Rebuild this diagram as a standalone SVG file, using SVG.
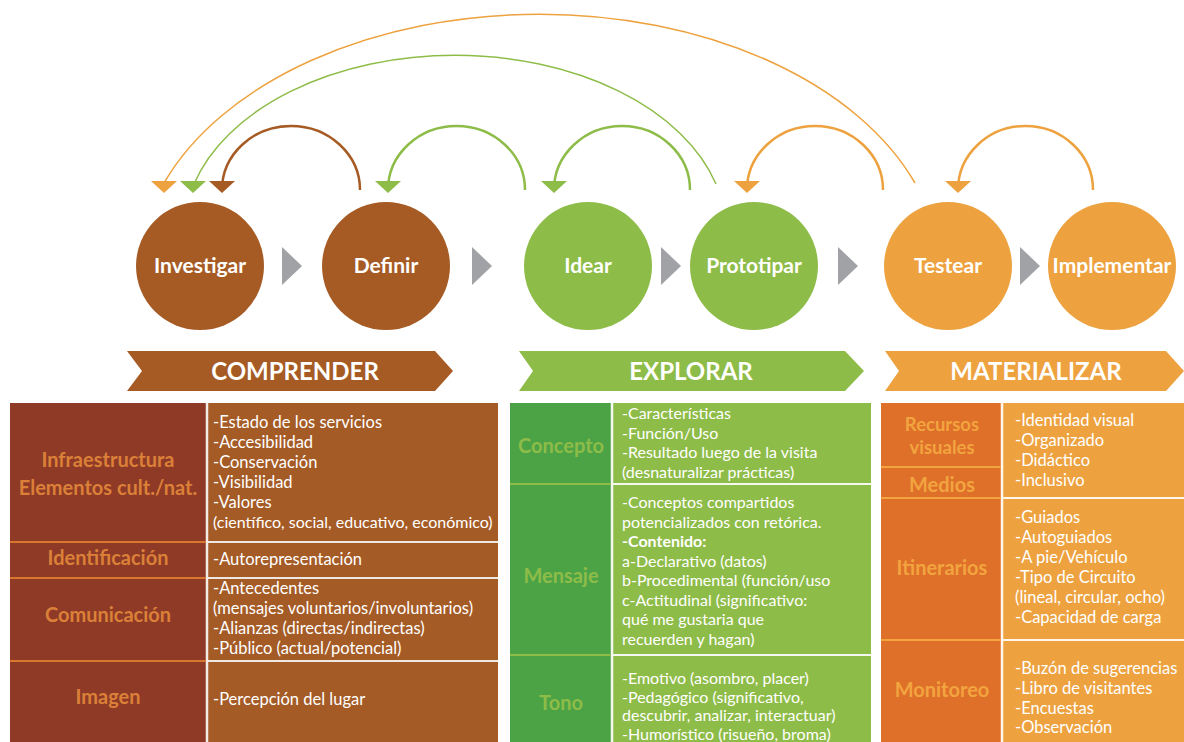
<svg xmlns="http://www.w3.org/2000/svg" width="1184" height="742" viewBox="0 0 1184 742">
<style>
.circ{font-family:Lato,"Liberation Sans",sans-serif;font-weight:bold;font-size:21px;fill:#fff;text-anchor:middle}
.ban{font-family:Lato,"Liberation Sans",sans-serif;font-weight:bold;font-size:24px;fill:#fff;text-anchor:middle}
.lab{font-family:Lato,"Liberation Sans",sans-serif;font-weight:bold;font-size:20px;text-anchor:middle}
.sm{font-size:18.5px}
.txt{font-family:Lato,"Liberation Sans",sans-serif;font-size:16.5px;fill:#fff}
.t2{font-size:16px}
.b{font-weight:bold}
.arcS{fill:none;stroke-width:2.5}
.arcB{fill:none;stroke-width:1.5}
.gray{fill:#A1A2A6}
</style>
<rect width="1184" height="742" fill="#fff"/>
<g id="connectors">
<path class="arcB" stroke="#EDA23F" d="M915 183 A401 260 0 0 0 164 183"/>
<path class="arcB" stroke="#8EBC48" d="M716 184 A271 176 0 0 0 194 184"/>
<path class="arcS" stroke="#A65B24" d="M360 190 A69 64 0 0 0 222 190"/>
<path class="arcS" stroke="#8EBC48" d="M525 190 A68.5 64 0 0 0 388 190"/>
<path class="arcS" stroke="#8EBC48" d="M690 190 A68 64 0 0 0 554 190"/>
<path class="arcS" stroke="#EDA23F" d="M883 190 A68 64 0 0 0 747 190"/>
<path class="arcS" stroke="#EDA23F" d="M1093 190 A67.5 64 0 0 0 958 190"/>
<polygon fill="#EDA23F" points="151,181 177,181 164,193"/>
<polygon fill="#8EBC48" points="180,181 206,181 193,193"/>
<polygon fill="#A65B24" points="209,181 235,181 222,193"/>
<polygon fill="#8EBC48" points="375,181 401,181 388,193"/>
<polygon fill="#8EBC48" points="541,181 567,181 554,193"/>
<polygon fill="#EDA23F" points="734,181 760,181 747,193"/>
<polygon fill="#EDA23F" points="945,181 971,181 958,193"/>
<polygon class="gray" points="282,247 302,266 282,285"/>
<polygon class="gray" points="472,247 492,266 472,285"/>
<polygon class="gray" points="661,247 681,266 661,285"/>
<polygon class="gray" points="838,247 858,266 838,285"/>
<polygon class="gray" points="1020,247 1040,266 1020,285"/>
</g>
<g id="investigar"><circle cx="200" cy="266" r="64" fill="#A65B24"/><text class="circ" x="200" y="273">Investigar</text></g>
<g id="definir"><circle cx="386" cy="266" r="64" fill="#A65B24"/><text class="circ" x="386" y="273">Definir</text></g>
<g id="idear"><circle cx="588" cy="266" r="64" fill="#8EBC48"/><text class="circ" x="588" y="273">Idear</text></g>
<g id="prototipar"><circle cx="754" cy="266" r="64" fill="#8EBC48"/><text class="circ" x="754" y="273">Prototipar</text></g>
<g id="testear"><circle cx="948" cy="266" r="64" fill="#EDA23F"/><text class="circ" x="948" y="273">Testear</text></g>
<g id="implementar"><circle cx="1112" cy="266" r="64" fill="#EDA23F"/><text class="circ" x="1112" y="273">Implementar</text></g>
<g id="comprender"><polygon fill="#A65B24" points="127,351 435,351 453,371 435,391 127,391 142,371"/><text class="ban" x="295" y="380">COMPRENDER</text></g>
<g id="explorar"><polygon fill="#8EBC48" points="519,351 845,351 864,371 845,391 519,391 533,371"/><text class="ban" x="691" y="380">EXPLORAR</text></g>
<g id="materializar"><polygon fill="#EDA23F" points="885,351 1166,351 1184,371 1166,391 885,391 899,371"/><text class="ban" x="1036" y="380">MATERIALIZAR</text></g>
<g id="tabla-comprender">
<rect x="10" y="403" width="197" height="339" fill="#8F3A26"/>
<rect x="207" y="403" width="291" height="339" fill="#A55B26"/>
<line x1="207" y1="403" x2="207" y2="742" stroke="#F3ECE6" stroke-width="2.5"/>
<g stroke="#D9772F" stroke-width="2"><line x1="10" y1="542" x2="206" y2="542"/><line x1="10" y1="578" x2="206" y2="578"/><line x1="10" y1="661" x2="206" y2="661"/></g>
<g stroke="#EFE8E2" stroke-width="2"><line x1="208" y1="542" x2="498" y2="542"/><line x1="208" y1="578" x2="498" y2="578"/><line x1="208" y1="661" x2="498" y2="661"/></g>
<g class="lab" fill="#DB8038"><text x="108" y="467">Infraestructura</text><text x="108" y="495">Elementos cult./nat.</text><text x="108" y="565">Identificación</text><text x="108" y="622">Comunicación</text><text x="108" y="704">Imagen</text></g>
<g class="txt">
<text x="213" y="428">-Estado de los servicios</text>
<text x="213" y="448">-Accesibilidad</text>
<text x="213" y="468">-Conservación</text>
<text x="213" y="488">-Visibilidad</text>
<text x="213" y="508">-Valores</text>
<text x="213" y="528" class="t2">(científico, social, educativo, económico)</text>
<text x="213" y="565">-Autorepresentación</text>
<text x="213" y="594">-Antecedentes</text>
<text x="213" y="614">(mensajes voluntarios/involuntarios)</text>
<text x="213" y="634">-Alianzas (directas/indirectas)</text>
<text x="213" y="654">-Público (actual/potencial)</text>
<text x="213" y="705">-Percepción del lugar</text>
</g>
</g>
<g id="tabla-explorar">
<rect x="510" y="403" width="102" height="339" fill="#4CA346"/>
<rect x="612" y="403" width="259" height="339" fill="#8EBC48"/>
<line x1="612" y1="403" x2="612" y2="742" stroke="#F4F8EE" stroke-width="2.5"/>
<g stroke="#8EBC48" stroke-width="2"><line x1="510" y1="484" x2="611" y2="484"/><line x1="510" y1="655" x2="611" y2="655"/></g>
<g stroke="#F4F8EE" stroke-width="2"><line x1="613" y1="484" x2="871" y2="484"/><line x1="613" y1="655" x2="871" y2="655"/></g>
<g class="lab" fill="#8EBC48"><text x="561" y="453">Concepto</text><text x="561" y="583">Mensaje</text><text x="561" y="710">Tono</text></g>
<g class="txt t2">
<text x="622" y="419">-Características</text>
<text x="622" y="439">-Función/Uso</text>
<text x="622" y="458">-Resultado luego de la visita</text>
<text x="622" y="478">(desnaturalizar prácticas)</text>
<text x="622" y="508">-Conceptos compartidos</text>
<text x="622" y="527.5">potencializados con retórica.</text>
<text class="b" x="622" y="547">-Contenido:</text>
<text x="622" y="566.5">a-Declarativo (datos)</text>
<text x="622" y="586">b-Procedimental (función/uso</text>
<text x="622" y="605.5">c-Actitudinal (significativo:</text>
<text x="622" y="625">qué me gustaria que</text>
<text x="622" y="644.5">recuerden y hagan)</text>
<text x="622" y="684">-Emotivo (asombro, placer)</text>
<text x="622" y="702.5">-Pedagógico (significativo,</text>
<text x="622" y="721">descubrir, analizar, interactuar)</text>
<text x="622" y="739.5">-Humorístico  (risueño, broma)</text>
</g>
</g>
<g id="tabla-materializar">
<rect x="881" y="403" width="121" height="339" fill="#DF7029"/>
<rect x="1002" y="403" width="182" height="339" fill="#EDA23F"/>
<line x1="1002" y1="403" x2="1002" y2="742" stroke="#FFF6EC" stroke-width="2.5"/>
<g stroke="#F2A43F" stroke-width="2"><line x1="881" y1="467" x2="1001" y2="467"/><line x1="881" y1="498" x2="1001" y2="498"/><line x1="881" y1="640" x2="1001" y2="640"/></g>
<g stroke="#FFF6EC" stroke-width="2"><line x1="1003" y1="498" x2="1184" y2="498"/><line x1="1003" y1="640" x2="1184" y2="640"/></g>
<g class="lab" fill="#F2A43F"><text class="sm" x="942" y="431">Recursos</text><text class="sm" x="942" y="454">visuales</text><text x="942" y="492">Medios</text><text x="942" y="575">Itinerarios</text><text x="942" y="697">Monitoreo</text></g>
<g class="txt">
<text x="1015" y="426">-Identidad visual</text>
<text x="1015" y="446">-Organizado</text>
<text x="1015" y="466">-Didáctico</text>
<text x="1015" y="486">-Inclusivo</text>
<text x="1015" y="523">-Guiados</text>
<text x="1015" y="543">-Autoguiados</text>
<text x="1015" y="563">-A pie/Vehículo</text>
<text x="1015" y="583">-Tipo de Circuito</text>
<text x="1015" y="603">(lineal, circular, ocho)</text>
<text x="1015" y="623">-Capacidad de carga</text>
<text x="1015" y="674">-Buzón de sugerencias</text>
<text x="1015" y="694">-Libro de visitantes</text>
<text x="1015" y="714">-Encuestas</text>
<text x="1015" y="733">-Observación</text>
</g>
</g>
</svg>
